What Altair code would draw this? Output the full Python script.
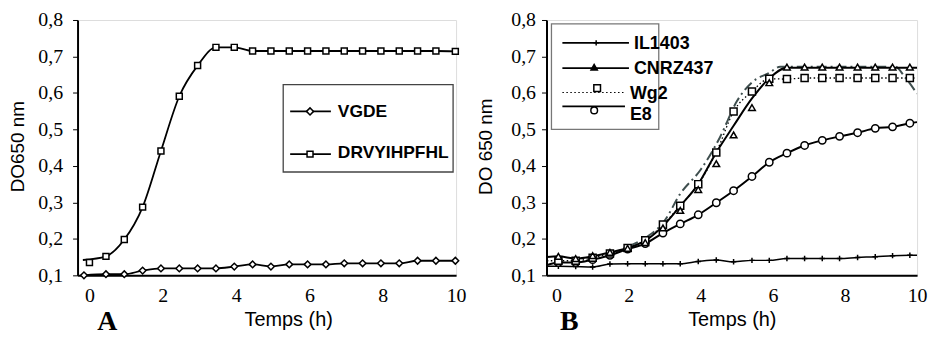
import altair as alt
import pandas as pd

# ---------------- Panel A data ----------------
tA_vgde = [-0.15, 0.45, 0.95, 1.45, 1.95, 2.45, 2.95, 3.45, 3.95, 4.45, 4.95,
           5.45, 5.95, 6.45, 6.95, 7.45, 7.95, 8.45, 8.95, 9.45, 9.98]
vgde = [0.100, 0.103, 0.103, 0.113, 0.119, 0.119, 0.119, 0.119, 0.124, 0.130, 0.124,
        0.130, 0.130, 0.130, 0.133, 0.133, 0.133, 0.133, 0.140, 0.140, 0.140]
tA_drvy = [0.0, 0.45, 0.95, 1.45, 1.95, 2.45, 2.95, 3.45, 3.95, 4.45, 4.95,
           5.45, 5.95, 6.45, 6.95, 7.45, 7.95, 8.45, 8.95, 9.45, 9.98]
drvy = [0.135, 0.152, 0.198, 0.287, 0.441, 0.591, 0.675, 0.725, 0.725, 0.715, 0.715,
        0.715, 0.715, 0.715, 0.715, 0.715, 0.715, 0.715, 0.715, 0.715, 0.714]
drvy_line_t = [-0.18, 0.45, 0.95, 1.45, 1.95, 2.45, 2.95, 3.45, 3.95, 4.45, 4.95,
               5.45, 5.95, 6.45, 6.95, 7.45, 7.95, 8.45, 8.95, 9.45, 9.98]
drvy_line = [0.142, 0.152, 0.198, 0.287, 0.441, 0.591, 0.675, 0.725, 0.725, 0.715, 0.715,
             0.715, 0.715, 0.715, 0.715, 0.715, 0.715, 0.715, 0.715, 0.715, 0.714]
names_A = ["VGDE", "DRVYIHPFHL"]

# ---------------- Panel B data ----------------
tB = [0.05, 0.53, 1.0, 1.48, 1.97, 2.46, 2.95, 3.43, 3.93, 4.43, 4.91,
      5.42, 5.9, 6.39, 6.88, 7.37, 7.85, 8.35, 8.84, 9.32, 9.8]
il1403 = [0.125, 0.124, 0.123, 0.131, 0.132, 0.132, 0.132, 0.132, 0.138, 0.142, 0.137,
          0.141, 0.141, 0.146, 0.146, 0.146, 0.146, 0.149, 0.151, 0.154, 0.155]
cnrz437 = [0.152, 0.146, 0.154, 0.163, 0.174, 0.190, 0.230, 0.278, 0.335, 0.406, 0.485,
           0.560, 0.628, 0.671, 0.671, 0.671, 0.671, 0.671, 0.671, 0.671, 0.671]
wg2 = [0.140, 0.140, 0.148, 0.160, 0.175, 0.196, 0.239, 0.291, 0.350, 0.437, 0.549,
       0.604, 0.639, 0.638, 0.641, 0.641, 0.641, 0.641, 0.641, 0.641, 0.641]
e8 = [0.135, 0.135, 0.143, 0.155, 0.172, 0.187, 0.216, 0.241, 0.266, 0.299, 0.332,
      0.371, 0.410, 0.435, 0.456, 0.470, 0.481, 0.491, 0.503, 0.507, 0.517]
# edge values of the fitted curves (left edge, right edge)
il1403_edges = [0.125, 0.155]
cnrz437_fit_t = [-0.27, 0.05, 0.53, 1.0, 1.48, 1.97, 2.46, 2.95, 3.43, 3.93, 4.43,
                 4.91, 5.42, 5.9, 6.39, 10.0]
cnrz437_fit = [0.150, 0.152, 0.146, 0.152, 0.163, 0.175, 0.195, 0.235, 0.290, 0.350, 0.437,
               0.510, 0.585, 0.640, 0.669, 0.669]
wg2_edges = [0.140, 0.641]
e8_edges = [0.128, 0.520]
gray_t = [2.0, 2.5, 3.0, 3.42, 4.0, 4.53, 5.0, 5.43, 5.9, 6.2, 9.4, 9.65, 10.0]
gray_v = [0.180, 0.205, 0.250, 0.322, 0.390, 0.478, 0.577, 0.630, 0.655, 0.672, 0.672, 0.645, 0.598]
names_B = ["IL1403", "CNRZ437", "Wg2", "E8"]

SERIF = "Liberation Serif"
SANS = "Liberation Sans"
LABEL_EXPR = "replace(format(datum.value, '.1f'), '.', ',')"
PLUS = "M-1,0L1,0M0,-1L0,1"
H = 257


def xenc(domain_min, title_x):
    return alt.X("t:Q",
                 scale=alt.Scale(domain=[domain_min, 10], nice=False, zero=False),
                 axis=alt.Axis(values=[0, 2, 4, 6, 8, 10], format="d", ticks=False, grid=False,
                               labelFlush=False,
                               title="Temps (h)", titleFont=SANS, titleFontSize=20,
                               titleFontWeight="normal", titleX=title_x, titleY=51,
                               titleAlign="center", titleBaseline="alphabetic",
                               labelFont=SERIF, labelFontSize=20, labelPadding=10,
                               labelColor="black", titleColor="black",
                               domainColor="black", domainWidth=2))


def yenc(title, label_pad, title_x):
    return alt.Y("v:Q",
                 scale=alt.Scale(domain=[0.1, 0.8], nice=False, zero=False),
                 axis=alt.Axis(values=[0.1, 0.2, 0.3, 0.4, 0.5, 0.6, 0.7, 0.8], labelExpr=LABEL_EXPR,
                               grid=False, tickSize=5, tickWidth=1, tickColor="black",
                               title=title, titleFont=SANS, titleFontSize=19,
                               titleFontWeight="normal", titleX=title_x, titleY=127,
                               titleAngle=270, titleAlign="center", titleBaseline="middle",
                               labelFont=SERIF, labelFontSize=20, labelPadding=label_pad,
                               labelColor="black", titleColor="black",
                               domainColor="black", domainWidth=2))


def df(ts, vs):
    return pd.DataFrame({"t": ts, "v": vs})


def series_line(data, X, Y, dash=None, width=1.8, color="black"):
    kw = dict(color=color, strokeWidth=width, interpolate="monotone", clip=True)
    if dash:
        kw["strokeDash"] = dash
    return alt.Chart(data).mark_line(**kw).encode(x=X, y=Y)


def series_pts(data, X, Y, shape, size, filled=False, sw=1.5):
    return alt.Chart(data).mark_point(shape=shape, size=size, filled=filled,
                                      fill="black" if filled else "white",
                                      stroke="black", strokeWidth=sw, opacity=1).encode(x=X, y=Y)


def legend_entry(name, x1, x2, xm, ly, my, ty, tx, shape, size, dash=None, fs=17,
                 filled=False, sw=1.5):
    d = alt.Data(values=[{"label": name}])
    rule_kw = dict(color="black", strokeWidth=1.8)
    if dash:
        rule_kw["strokeDash"] = dash
        rule_kw["strokeWidth"] = 1.2
    rule = alt.Chart(d).mark_rule(**rule_kw).encode(
        x=alt.value(x1), x2=alt.value(x2), y=alt.value(ly))
    pt = alt.Chart(d).mark_point(shape=shape, size=size, filled=filled,
                                 fill="black" if filled else "white",
                                 stroke="black", strokeWidth=sw, opacity=1).encode(
        x=alt.value(xm), y=alt.value(my))
    txt = alt.Chart(d).mark_text(font=SANS, fontSize=fs, fontWeight="bold", align="left",
                                 baseline="middle", color="black").encode(
        x=alt.value(tx), y=alt.value(ty), text=alt.Text("label:N"))
    return [rule, pt, txt]


def box(x1, x2, y1, y2, stroke):
    return alt.Chart(alt.Data(values=[{}])).mark_rect(
        fill="white", stroke=stroke, strokeWidth=1.3).encode(
        x=alt.value(x1), x2=alt.value(x2), y=alt.value(y1), y2=alt.value(y2))


def panel_letter(letter, x):
    return alt.Chart(alt.Data(values=[{"label": letter}])).mark_text(
        font=SERIF, fontSize=28, fontWeight="bold", align="center", baseline="alphabetic",
        color="black").encode(x=alt.value(x), y=alt.value(312), text=alt.Text("label:N"))


# ---------------- Panel A ----------------
XA = xenc(-0.325, 212)
YA = yenc("DO650 nm", 10, -60)
layers_A = [
    series_line(df(tA_vgde, vgde), XA, YA),
    series_line(df(drvy_line_t, drvy_line), XA, YA),
    series_pts(df(tA_vgde, vgde), XA, YA, "diamond", 45),
    series_pts(df(tA_drvy, drvy), XA, YA, "square", 36),
    box(207, 378, 65, 153, "#444444"),
]
layers_A += legend_entry(names_A[0], 214, 255, 234, 92, 92, 93, 262, "diamond", 50, fs=17.5)
layers_A += legend_entry(names_A[1], 214, 255, 234, 135, 135, 134, 262, "square", 36, fs=17.5)
layers_A.append(panel_letter("A", 30))
chart_A = alt.layer(*layers_A).properties(width=381, height=H)

# ---------------- Panel B ----------------
XB = xenc(-0.28, 186.5)
YB = yenc("DO 650 nm", 6, -61)
il_line = df([-0.27] + tB + [10.0], [il1403_edges[0]] + il1403 + [il1403_edges[1]])
wg_line = df([-0.27] + tB + [10.0], [wg2_edges[0]] + wg2 + [wg2_edges[1]])
e8_line = df([-0.27] + tB + [10.0], [e8_edges[0]] + e8 + [e8_edges[1]])
layers_B = [
    series_line(il_line, XB, YB, width=1.5),
    series_line(e8_line, XB, YB, width=2),
    series_line(wg_line, XB, YB, dash=[1.5, 2.5], width=1.3),
    series_line(df(gray_t, gray_v), XB, YB, dash=[10, 4, 2, 4], width=2, color="#3f4f4f"),
    series_line(df(cnrz437_fit_t, cnrz437_fit), XB, YB, width=2),
    series_pts(df(tB, il1403), XB, YB, PLUS, 30, sw=1.5),
    series_pts(df(tB, e8), XB, YB, "circle", 55),
    series_pts(df(tB, wg2), XB, YB, "square", 50),
    series_pts(df(tB, cnrz437), XB, YB, "triangle-up", 45),
    box(5, 113, 4, 110, "#777777"),
]
layers_B += legend_entry(names_B[0], 16, 83, 50, 23, 23, 24.5, 88, PLUS, 30, fs=18)
layers_B += legend_entry(names_B[1], 16, 83, 48, 48.5, 47.5, 49.5, 88, "triangle-up", 40, fs=18,
                         filled=True)
layers_B += legend_entry(names_B[2], 16, 79, 51, 73, 68.5, 75, 84, "square", 45,
                         dash=[1.5, 2.5], fs=18)
layers_B += legend_entry(names_B[3], 16, 79, 48, 87, 91, 96, 84, "circle", 45, fs=18)
layers_B.append(panel_letter("B", 23))
chart_B = alt.layer(*layers_B).properties(width=373, height=H)

chart = alt.hconcat(chart_A, chart_B, spacing=9).properties(
    padding={"left": 0, "top": 0, "right": 0, "bottom": 0}
).configure_view(stroke="black", strokeWidth=2).configure(background="white")

chart.save("out.html", embed_options={"renderer": "svg", "actions": False})
